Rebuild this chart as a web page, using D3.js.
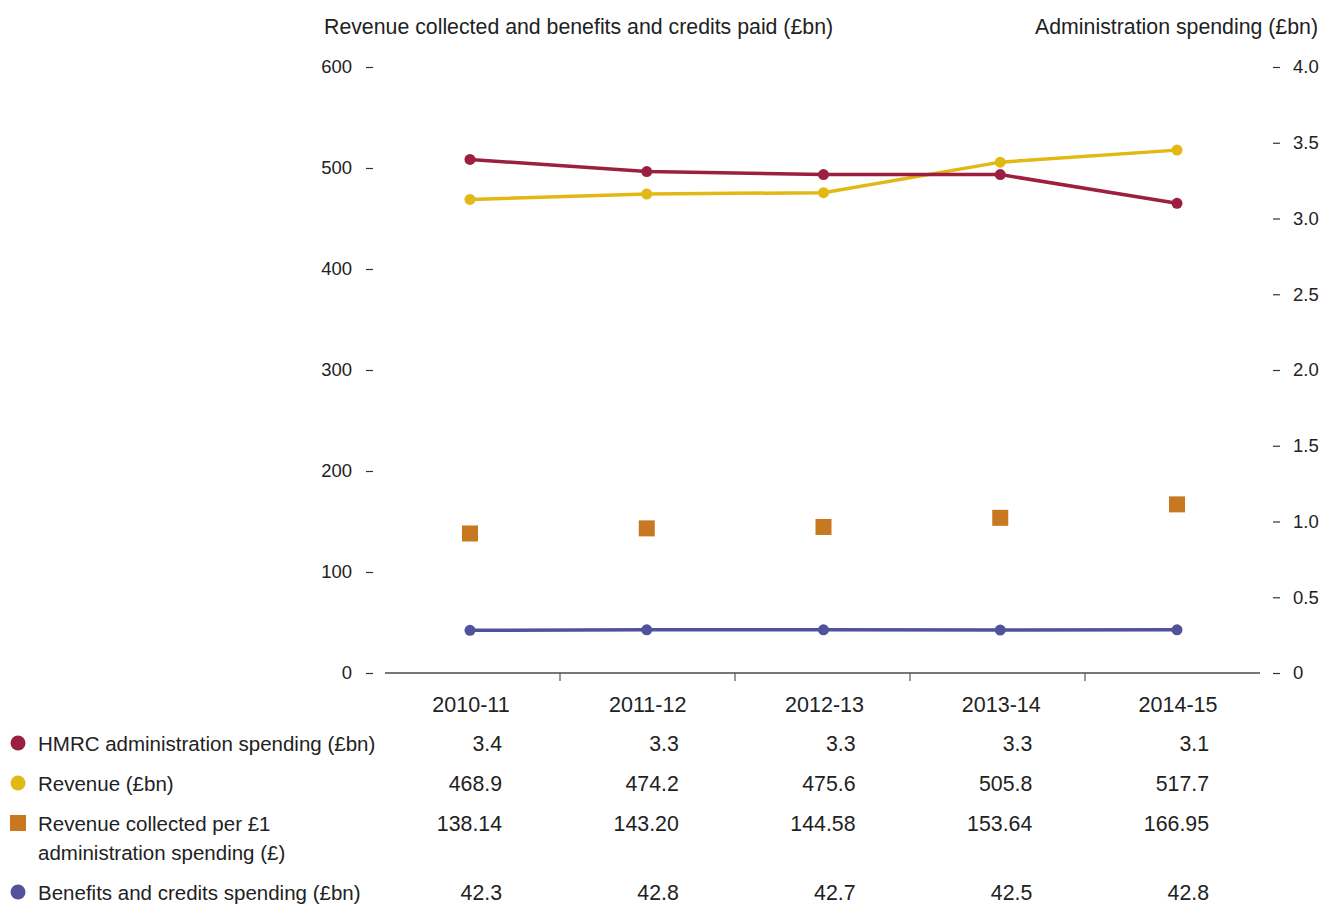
<!DOCTYPE html>
<html>
<head>
<meta charset="utf-8">
<script src="https://cdn.jsdelivr.net/npm/d3@7"></script>
<style>
  body { margin: 0; background: #fff; }
  text { font-family: "Liberation Sans", Arial, sans-serif; fill: #222; }
</style>
</head>
<body>
<script>
var years = ["2010-11", "2011-12", "2012-13", "2013-14", "2014-15"];
var adminSpend = [3.39, 3.31, 3.29, 3.29, 3.10];
var revenue = [468.9, 474.2, 475.6, 505.8, 517.7];
var perPound = [138.14, 143.20, 144.58, 153.64, 166.95];
var benefits = [42.3, 42.8, 42.7, 42.5, 42.8];
var leftTicks = [0, 100, 200, 300, 400, 500, 600];
var rightTicks = [0, 0.5, 1.0, 1.5, 2.0, 2.5, 3.0, 3.5, 4.0];

var width = 1322, height = 904;

var svg = d3.select("body")
    .append("svg")
    .attr("width", width)
    .attr("height", height);

var x = d3.scaleBand().domain(years).range([385, 1260]);
var xp = d3.scalePoint().domain(years).range([470, 1177]);
var yL = d3.scaleLinear().domain([0, 600]).range([673, 67]);
var yR = d3.scaleLinear().domain([0, 4]).range([673, 67]);

// axis titles
svg.append("text")
    .attr("x", 324).attr("y", 34)
    .attr("font-size", 21.3)
    .text("Revenue collected and benefits and credits paid (£bn)");
svg.append("text")
    .attr("x", 1318).attr("y", 34)
    .attr("font-size", 21.3)
    .attr("text-anchor", "end")
    .text("Administration spending (£bn)");

// left axis
var gl = svg.append("g")
    .attr("transform", "translate(373,0)")
    .call(d3.axisLeft(yL).tickValues(leftTicks).tickSize(7).tickPadding(14));
gl.select(".domain").remove();

// right axis
var gr = svg.append("g")
    .attr("transform", "translate(1273,0)")
    .call(d3.axisRight(yR).tickValues(rightTicks).tickSize(7).tickPadding(13)
        .tickFormat(function(d) { return d === 0 ? "0" : d3.format(".1f")(d); }));
gr.select(".domain").remove();

svg.selectAll(".tick line").attr("stroke", "#333").attr("stroke-width", 1.2);
svg.selectAll(".tick text")
    .attr("font-size", 18.5)
    .style("font-family", "Liberation Sans, Arial, sans-serif")
    .attr("fill", "#333");

// x axis
var gx = svg.append("g")
    .attr("transform", "translate(0,673)");
gx.append("line")
    .attr("x1", 385).attr("x2", 1260)
    .attr("stroke", "#777").attr("stroke-width", 2);
gx.selectAll(".xt")
    .data(years.slice(1))
    .enter()
    .append("line")
    .attr("x1", function(d) { return x(d); })
    .attr("x2", function(d) { return x(d); })
    .attr("y1", 0).attr("y2", 8)
    .attr("stroke", "#555").attr("stroke-width", 1.2);
gx.selectAll(".xl")
    .data(years)
    .enter()
    .append("text")
    .attr("x", function(d) { return xp(d) + 1; })
    .attr("y", 39)
    .attr("text-anchor", "middle")
    .attr("font-size", 21.5)
    .text(function(d) { return d; });

// series
var series = [
    {values: revenue, scale: yL, color: "#e2b815"},
    {values: adminSpend, scale: yR, color: "#9c1f3f"},
    {values: benefits, scale: yL, color: "#52519b"}
];

series.forEach(function(s) {
    var line = d3.line()
        .x(function(d, i) { return xp(years[i]); })
        .y(function(d) { return s.scale(d); });
    svg.append("path")
        .datum(s.values)
        .attr("d", line)
        .attr("fill", "none")
        .attr("stroke", s.color)
        .attr("stroke-width", 3.5);
    svg.selectAll(null)
        .data(s.values)
        .enter()
        .append("circle")
        .attr("cx", function(d, i) { return xp(years[i]); })
        .attr("cy", function(d) { return s.scale(d); })
        .attr("r", 5.5)
        .attr("fill", s.color);
});

svg.selectAll(".sq")
    .data(perPound)
    .enter()
    .append("rect")
    .attr("x", function(d, i) { return xp(years[i]) - 8; })
    .attr("y", function(d) { return yL(d) - 8; })
    .attr("width", 16).attr("height", 16)
    .attr("fill", "#c87820");

// table legend
var rows = [
    {label: ["HMRC administration spending (£bn)"], values: adminSpend, fmt: d3.format(".1f"), color: "#9c1f3f", shape: "circle", y: 751},
    {label: ["Revenue (£bn)"], values: revenue, fmt: d3.format(".1f"), color: "#e2b815", shape: "circle", y: 791},
    {label: ["Revenue collected per £1", "administration spending (£)"], values: perPound, fmt: d3.format(".2f"), color: "#c87820", shape: "square", y: 831},
    {label: ["Benefits and credits spending (£bn)"], values: benefits, fmt: d3.format(".1f"), color: "#52519b", shape: "circle", y: 900}
];

rows.forEach(function(r) {
    if (r.shape === "circle") {
        svg.append("circle")
            .attr("cx", 18).attr("cy", r.y - 8)
            .attr("r", 7.5)
            .attr("fill", r.color);
    } else {
        svg.append("rect")
            .attr("x", 10).attr("y", r.y - 16)
            .attr("width", 16).attr("height", 16)
            .attr("fill", r.color);
    }
    r.label.forEach(function(t, j) {
        svg.append("text")
            .attr("x", 38).attr("y", r.y + j * 29)
            .attr("font-size", 20.5)
            .text(t);
    });
    svg.selectAll(null)
        .data(r.values)
        .enter()
        .append("text")
        .attr("x", function(d, i) { return xp(years[i]) + 32; })
        .attr("y", r.y)
        .attr("font-size", 21.3)
        .attr("text-anchor", "end")
        .text(function(d) { return r.fmt(d); });
});
</script>
</body>
</html>
